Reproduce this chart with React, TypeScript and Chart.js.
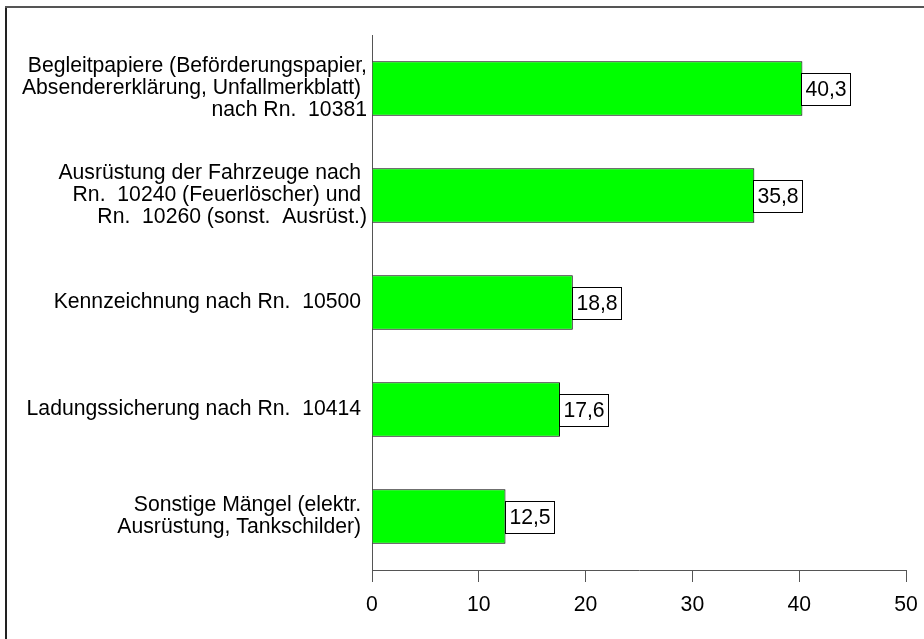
import React, { useEffect, useRef } from "react";
import { Chart, registerables } from "chart.js";

Chart.register(...registerables);

const categories: (string | string[])[] = [
  ["Begleitpapiere (Beförderungspapier,", "Absendererklärung, Unfallmerkblatt) ", "nach Rn.  10381"],
  ["Ausrüstung der Fahrzeuge nach ", "Rn.  10240 (Feuerlöscher) und ", "Rn.  10260 (sonst.  Ausrüst.)"],
  "Kennzeichnung nach Rn.  10500 ",
  "Ladungssicherung nach Rn.  10414 ",
  ["Sonstige Mängel (elektr. ", "Ausrüstung, Tankschilder) "],
];
const values: number[] = [40.3, 35.8, 18.8, 17.6, 12.5];
const xTicks: number[] = [0, 10, 20, 30, 40, 50];

const FONT = "'Liberation Sans', Arial, sans-serif";
const FS = 21.2;

const valueLabelPlugin = {
  id: "valueLabels",
  afterDatasetsDraw(chart: any) {
    const ctx = chart.ctx;
    const meta = chart.getDatasetMeta(0);
    ctx.save();
    ctx.font = `${FS}px ${FONT}`;
    meta.data.forEach((bar: any, i: number) => {
      const txt = values[i].toFixed(1).replace(".", ",");
      const tw = ctx.measureText(txt).width;
      const w = Math.round(tw + 8);
      const h = 32;
      const left = Math.round(bar.x) - 0.5;
      const top = Math.round(bar.y - h / 2) + 0.5;
      ctx.fillStyle = "#ffffff";
      ctx.fillRect(left, top, w, h);
      ctx.strokeStyle = "#000000";
      ctx.lineWidth = 1;
      ctx.strokeRect(left, top, w, h);
      ctx.fillStyle = "#000000";
      ctx.textAlign = "center";
      ctx.textBaseline = "middle";
      ctx.fillText(txt, left + w / 2, top + h / 2 + 1);
    });
    ctx.restore();
  },
};

export default function App() {
  const ref = useRef<HTMLCanvasElement>(null);
  useEffect(() => {
    if (!ref.current) return;
    const chart = new Chart(ref.current, {
      type: "bar",
      data: {
        labels: categories as any,
        datasets: [
          {
            data: values,
            backgroundColor: "#00ff00",
            borderColor: "#000000",
            borderWidth: 1,
            barPercentage: 0.51,
            categoryPercentage: 1,
          },
        ],
      },
      options: {
        indexAxis: "y",
        animation: false,
        responsive: false,
        maintainAspectRatio: false,
        layout: { padding: { top: 35, right: 18, left: 0, bottom: 0 } },
        plugins: {
          legend: { display: false },
          tooltip: { enabled: false },
        },
        scales: {
          x: {
            min: 0,
            max: 50,
            afterBuildTicks: (scale: any) => {
              scale.ticks = xTicks.map((v) => ({ value: v }));
            },
            ticks: {
              color: "#000000",
              font: { family: FONT, size: FS },
              padding: 10,
              maxRotation: 0,
            },
            grid: {
              drawOnChartArea: false,
              drawTicks: true,
              tickLength: 12,
              color: "#555555",
            },
            border: { display: true, color: "#555555", width: 1 },
            afterFit: (scale: any) => {
              scale.height = 69;
              scale.paddingRight = 0;
              scale.paddingLeft = 0;
            },
          },
          y: {
            ticks: {
              color: "#000000",
              font: { family: FONT, size: FS, lineHeight: 22 / FS },
              padding: 5,
              crossAlign: "near",
            },
            grid: { display: false, drawTicks: false, tickLength: 0 },
            border: { display: true, color: "#555555", width: 1 },
            afterFit: (scale: any) => {
              scale.width = 372;
              scale.paddingTop = 0;
              scale.paddingBottom = 0;
            },
          },
        },
      },
      plugins: [valueLabelPlugin],
    });
    return () => chart.destroy();
  }, []);

  return (
    <div style={{ position: "fixed", left: 0, top: 0, width: 924, height: 639, background: "#fff" }}>
      <canvas ref={ref} width={924} height={639} style={{ position: "absolute", left: 0, top: 0 }} />
      <div style={{ position: "absolute", left: 5, top: 6, width: 2, height: 633, background: "#222" }} />
      <div style={{ position: "absolute", left: 5, top: 6, width: 919, height: 2, background: "#555" }} />
    </div>
  );
}
